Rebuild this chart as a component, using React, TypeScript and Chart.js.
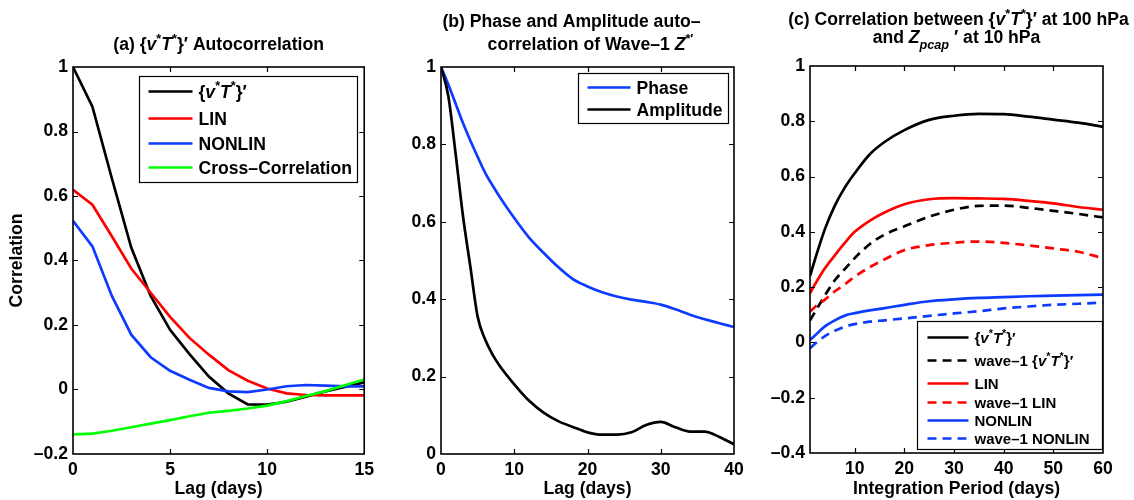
import React, { useEffect, useRef } from 'react';
import { Chart, registerables } from 'chart.js';

Chart.register(...registerables);

type Seg = { t: string; i?: boolean; sup?: boolean; sub?: boolean };

// ---------------- Panel (a) data ----------------
const lagA = [0, 1, 2, 3, 4, 5, 6, 7, 8, 9, 10, 11, 12, 13, 14, 15];
const vtA = [1.0, 0.877, 0.655, 0.44, 0.29, 0.185, 0.11, 0.04, -0.012, -0.046, -0.047, -0.038, -0.022, -0.006, 0.008, 0.022];
const linA = [0.619, 0.573, 0.475, 0.375, 0.3, 0.225, 0.16, 0.108, 0.06, 0.027, 0.003, -0.012, -0.017, -0.018, -0.018, -0.018];
const nonlinA = [0.523, 0.444, 0.29, 0.17, 0.1, 0.058, 0.03, 0.005, -0.006, -0.008, 0.0, 0.01, 0.014, 0.012, 0.01, 0.01];
const crossA = [-0.139, -0.137, -0.128, -0.117, -0.106, -0.095, -0.083, -0.072, -0.066, -0.059, -0.05, -0.036, -0.02, -0.005, 0.013, 0.031];
const xTicksA = [0, 5, 10, 15];
const yTicksA = [-0.2, 0, 0.2, 0.4, 0.6, 0.8, 1];

// ---------------- Panel (b) data ----------------
const lagB = [0, 1, 2, 3, 4, 5, 6, 7, 8, 10, 12, 14, 16, 18, 20, 22, 24, 26, 28, 30, 32, 34, 36, 38, 40];
const phaseB = [1.0, 0.955, 0.905, 0.855, 0.81, 0.768, 0.728, 0.695, 0.665, 0.61, 0.56, 0.52, 0.483, 0.452, 0.433, 0.418, 0.407, 0.399, 0.393, 0.386, 0.374, 0.36, 0.348, 0.338, 0.328];
const ampB = [1.0, 0.925, 0.775, 0.615, 0.485, 0.355, 0.297, 0.258, 0.228, 0.18, 0.138, 0.107, 0.085, 0.07, 0.056, 0.05, 0.05, 0.056, 0.075, 0.083, 0.069, 0.058, 0.058, 0.044, 0.025];
const xTicksB = [0, 10, 20, 30, 40];
const yTicksB = [0, 0.2, 0.4, 0.6, 0.8, 1];

// ---------------- Panel (c) data ----------------
const periodC = [1, 2, 4, 6, 8, 10, 13, 16, 20, 25, 30, 35, 40, 45, 50, 55, 60];
const vtC = [0.24, 0.3, 0.41, 0.495, 0.56, 0.612, 0.68, 0.725, 0.768, 0.805, 0.82, 0.827, 0.826, 0.817, 0.806, 0.795, 0.78];
const vtW1C = [0.08, 0.11, 0.17, 0.225, 0.265, 0.305, 0.355, 0.39, 0.42, 0.455, 0.48, 0.494, 0.495, 0.487, 0.476, 0.465, 0.452];
const linC = [0.178, 0.21, 0.268, 0.315, 0.36, 0.4, 0.44, 0.47, 0.5, 0.518, 0.522, 0.521, 0.519, 0.512, 0.503, 0.49, 0.48];
const linW1C = [0.111, 0.128, 0.155, 0.185, 0.21, 0.238, 0.272, 0.3, 0.334, 0.352, 0.361, 0.365, 0.36, 0.351, 0.34, 0.328, 0.305];
const nonlinC = [0.009, 0.025, 0.058, 0.08, 0.097, 0.106, 0.116, 0.124, 0.136, 0.149, 0.156, 0.161, 0.164, 0.167, 0.169, 0.171, 0.173];
const nonlinW1C = [-0.021, -0.005, 0.023, 0.042, 0.057, 0.066, 0.075, 0.08, 0.087, 0.096, 0.105, 0.113, 0.123, 0.13, 0.136, 0.14, 0.144];
const xTicksC = [10, 20, 30, 40, 50, 60];
const yTicksC = [-0.4, -0.2, 0, 0.2, 0.4, 0.6, 0.8, 1];

// ---------------- Text ----------------
const vT: Seg[] = [{ t: '{' }, { t: 'v', i: true }, { t: '*', sup: true }, { t: 'T', i: true }, { t: '*', sup: true }, { t: '}′' }];
const titleA: Seg[][] = [[{ t: '(a) ' }, ...vT, { t: ' Autocorrelation' }]];
const titleB: Seg[][] = [
  [{ t: '(b) Phase and Amplitude auto–' }],
  [{ t: 'correlation of Wave–1 ' }, { t: 'Z', i: true }, { t: '*′', sup: true }],
];
const titleC: Seg[][] = [
  [{ t: '(c) Correlation between ' }, ...vT, { t: ' at 100 hPa' }],
  [{ t: 'and ' }, { t: 'Z', i: true }, { t: 'pcap', i: true, sub: true }, { t: ' ′ at 10 hPa' }],
];
const legendA: Seg[][] = [vT, [{ t: 'LIN' }], [{ t: 'NONLIN' }], [{ t: 'Cross–Correlation' }]];
const legendB: Seg[][] = [[{ t: 'Phase' }], [{ t: 'Amplitude' }]];
const legendC: Seg[][] = [
  vT,
  [{ t: 'wave–1 ' }, ...vT],
  [{ t: 'LIN' }],
  [{ t: 'wave–1 LIN' }],
  [{ t: 'NONLIN' }],
  [{ t: 'wave–1 NONLIN' }],
];

const FONT = '"Liberation Sans", Arial, Helvetica, sans-serif';
const FS = 17.6;
const BLACK = '#000000';
const RED = '#ff0000';
const BLUE = '#0d3bff';
const GREEN = '#00ff00';
const LW = 2.7;

function segFont(s: Seg, size: number) {
  const sz = s.sup || s.sub ? size * 0.72 : size;
  return `${s.i ? 'italic ' : ''}bold ${sz}px ${FONT}`;
}

function drawRich(ctx: CanvasRenderingContext2D, segs: Seg[], x: number, y: number, size: number, align: 'left' | 'center') {
  ctx.save();
  ctx.textBaseline = 'alphabetic';
  ctx.textAlign = 'left';
  ctx.fillStyle = '#000';
  const widths = segs.map((s) => {
    ctx.font = segFont(s, size);
    return ctx.measureText(s.t).width;
  });
  const total = widths.reduce((a, b) => a + b, 0);
  let cx = align === 'center' ? x - total / 2 : x;
  segs.forEach((s, k) => {
    ctx.font = segFont(s, size);
    const dy = s.sup ? -size * 0.42 : s.sub ? size * 0.32 : 0;
    ctx.fillText(s.t, cx, y + dy);
    cx += widths[k];
  });
  ctx.restore();
}

const decorPlugin = {
  id: 'decor',
  afterDraw(chart: any, _args: any, opts: any) {
    const ctx: CanvasRenderingContext2D = chart.ctx;
    const a = chart.chartArea;
    const xs = chart.scales.x;
    const ys = chart.scales.y;
    const L = 5;
    ctx.save();
    ctx.strokeStyle = '#000';
    ctx.lineWidth = 1.2;
    ctx.beginPath();
    xs.ticks.forEach((t: any) => {
      const px = Math.round(xs.getPixelForValue(t.value)) + 0.5;
      if (px <= a.left + 2 || px >= a.right - 2) return;
      ctx.moveTo(px, a.bottom);
      ctx.lineTo(px, a.bottom - L);
      ctx.moveTo(px, a.top);
      ctx.lineTo(px, a.top + L);
    });
    ys.ticks.forEach((t: any) => {
      const py = Math.round(ys.getPixelForValue(t.value)) + 0.5;
      if (py <= a.top + 2 || py >= a.bottom - 2) return;
      ctx.moveTo(a.left, py);
      ctx.lineTo(a.left + L, py);
      ctx.moveTo(a.right, py);
      ctx.lineTo(a.right - L, py);
    });
    ctx.stroke();
    ctx.lineWidth = 1.6;
    ctx.strokeRect(a.left, a.top, a.right - a.left, a.bottom - a.top);

    // title
    (opts.title || []).forEach((line: Seg[], k: number) => {
      const t = opts.titlePos[k];
      drawRich(ctx, line, (a.left + a.right) / 2 + t.dx, t.y, opts.titleSize, 'center');
    });

    // legend
    const lg = opts.legend;
    if (lg) {
      const bx = Math.round(a.left + lg.x) + 0.5;
      const by = Math.round(a.top + lg.y) + 0.5;
      ctx.fillStyle = '#fff';
      ctx.fillRect(bx, by, lg.w, lg.h);
      ctx.lineWidth = 1.2;
      ctx.strokeStyle = '#000';
      ctx.strokeRect(bx, by, lg.w, lg.h);
      chart.data.datasets.forEach((ds: any, k: number) => {
        const ry = by + lg.rows[k];
        ctx.strokeStyle = ds.borderColor;
        ctx.lineWidth = ds.borderWidth;
        ctx.setLineDash(ds.borderDash || []);
        ctx.beginPath();
        ctx.moveTo(bx + lg.lx0, ry);
        ctx.lineTo(bx + lg.lx1, ry);
        ctx.stroke();
        ctx.setLineDash([]);
        drawRich(ctx, lg.labels[k], bx + lg.tx, ry + lg.size * 0.36, lg.size, 'left');
      });
    }
    ctx.restore();
  },
};

function fmt(v: number) {
  const r = Math.round(v * 10) / 10;
  if (r === 0) return '0';
  return r < 0 ? '–' + String(-r) : String(r);
}

function axes(o: {
  xMin: number; xMax: number; xTicks: number[];
  yMin: number; yMax: number; yTicks: number[];
  xTitle: string; yTitle?: string; yW: number; xH: number;
}) {
  const tickFont = { family: FONT, size: FS, weight: 'bold' as const };
  return {
    x: {
      type: 'linear' as const,
      min: o.xMin,
      max: o.xMax,
      afterBuildTicks: (s: any) => { s.ticks = o.xTicks.map((v) => ({ value: v })); },
      afterFit: (s: any) => { s.height = o.xH; },
      grid: { display: false, drawTicks: false },
      border: { display: false },
      ticks: { padding: 6, font: tickFont, color: '#000', maxRotation: 0, autoSkip: false, callback: (v: any) => fmt(Number(v)) },
      title: { display: true, text: o.xTitle, color: '#000', font: tickFont, padding: { top: 0, bottom: 0 } },
    },
    y: {
      type: 'linear' as const,
      min: o.yMin,
      max: o.yMax,
      afterBuildTicks: (s: any) => { s.ticks = o.yTicks.map((v) => ({ value: v })); },
      afterFit: (s: any) => { s.width = o.yW; },
      grid: { display: false, drawTicks: false },
      border: { display: false },
      ticks: { padding: 5, font: tickFont, color: '#000', autoSkip: false, callback: (v: any) => fmt(Number(v)) },
      title: { display: !!o.yTitle, text: o.yTitle || '', color: '#000', font: tickFont, padding: { top: 7, bottom: 0 } },
    },
  };
}

function line(label: string, xs: number[], ys: number[], color: string, order: number, dash?: number[], smooth = true) {
  return {
    label,
    data: xs.map((x, k) => ({ x, y: ys[k] })),
    borderColor: color,
    backgroundColor: color,
    borderWidth: LW,
    borderDash: dash || [],
    pointRadius: 0,
    fill: false,
    tension: 0,
    cubicInterpolationMode: smooth ? ('monotone' as const) : ('default' as const),
    order,
  };
}

function configA(): any {
  return {
    type: 'line',
    data: {
      datasets: [
        line('{v*T*}′', lagA, vtA, BLACK, 4, undefined, false),
        line('LIN', lagA, linA, RED, 3, undefined, false),
        line('NONLIN', lagA, nonlinA, BLUE, 2, undefined, false),
        line('Cross–Correlation', lagA, crossA, GREEN, 1, undefined, false),
      ],
    },
    options: {
      responsive: false,
      animation: false,
      layout: { padding: { top: 67, right: 12, left: 0, bottom: 0 } },
      scales: axes({ xMin: 0, xMax: 15, xTicks: xTicksA, yMin: -0.2, yMax: 1, yTicks: yTicksA, xTitle: 'Lag (days)', yTitle: 'Correlation', yW: 73, xH: 46 }),
      plugins: {
        legend: { display: false },
        tooltip: { enabled: false },
        decor: {
          title: titleA,
          titlePos: [{ dx: 0, y: 50 }],
          titleSize: FS,
          legend: { x: 66, y: 9, w: 218, h: 106, rows: [15, 42, 67, 91], lx0: 9, lx1: 53, tx: 59, size: FS, labels: legendA },
        },
      },
    },
    plugins: [decorPlugin],
  };
}

function configB(): any {
  return {
    type: 'line',
    data: {
      datasets: [
        line('Phase', lagB, phaseB, BLUE, 2),
        line('Amplitude', lagB, ampB, BLACK, 1),
      ],
    },
    options: {
      responsive: false,
      animation: false,
      layout: { padding: { top: 67, right: 26, left: 0, bottom: 0 } },
      scales: axes({ xMin: 0, xMax: 40, xTicks: xTicksB, yMin: 0, yMax: 1, yTicks: yTicksB, xTitle: 'Lag (days)', yW: 61, xH: 46 }),
      plugins: {
        legend: { display: false },
        tooltip: { enabled: false },
        decor: {
          title: titleB,
          titlePos: [{ dx: -16, y: 27 }, { dx: 3, y: 50 }],
          titleSize: FS,
          legend: { x: 137, y: 6, w: 150, h: 50, rows: [14, 36], lx0: 9, lx1: 52, tx: 58, size: FS, labels: legendB },
        },
      },
    },
    plugins: [decorPlugin],
  };
}

function configC(): any {
  return {
    type: 'line',
    data: {
      datasets: [
        line('{v*T*}′', periodC, vtC, BLACK, 6),
        line('wave–1 {v*T*}′', periodC, vtW1C, BLACK, 5, [9, 6]),
        line('LIN', periodC, linC, RED, 4),
        line('wave–1 LIN', periodC, linW1C, RED, 3, [9, 6]),
        line('NONLIN', periodC, nonlinC, BLUE, 2),
        line('wave–1 NONLIN', periodC, nonlinW1C, BLUE, 1, [9, 6]),
      ],
    },
    options: {
      responsive: false,
      animation: false,
      layout: { padding: { top: 66, right: 31, left: 0, bottom: 0 } },
      scales: axes({ xMin: 1, xMax: 60, xTicks: xTicksC, yMin: -0.4, yMax: 1, yTicks: yTicksC, xTitle: 'Integration Period (days)', yW: 50, xH: 47 }),
      plugins: {
        legend: { display: false },
        tooltip: { enabled: false },
        decor: {
          title: titleC,
          titlePos: [{ dx: 2, y: 25 }, { dx: 0, y: 43 }],
          titleSize: FS,
          legend: { x: 107, y: 255, w: 185, h: 128, rows: [16, 39, 62, 81, 99, 117], lx0: 10, lx1: 51, tx: 57, size: 15, labels: legendC },
        },
      },
    },
    plugins: [decorPlugin],
  };
}

function Panel({ make, left, width }: { make: () => any; left: number; width: number }) {
  const ref = useRef<HTMLCanvasElement>(null);
  useEffect(() => {
    const ch = new Chart(ref.current as HTMLCanvasElement, make());
    return () => ch.destroy();
  }, []);
  return (
    <canvas
      ref={ref}
      width={width}
      height={500}
      style={{ position: 'absolute', left, top: 0, width, height: 500, display: 'block' }}
    />
  );
}

export default function App() {
  return (
    <div style={{ position: 'absolute', left: 0, top: 0, width: 1134, height: 500, background: '#fff', overflow: 'hidden' }}>
      <Panel make={configA} left={0} width={380} />
      <Panel make={configB} left={380} width={380} />
      <Panel make={configC} left={760} width={374} />
    </div>
  );
}
